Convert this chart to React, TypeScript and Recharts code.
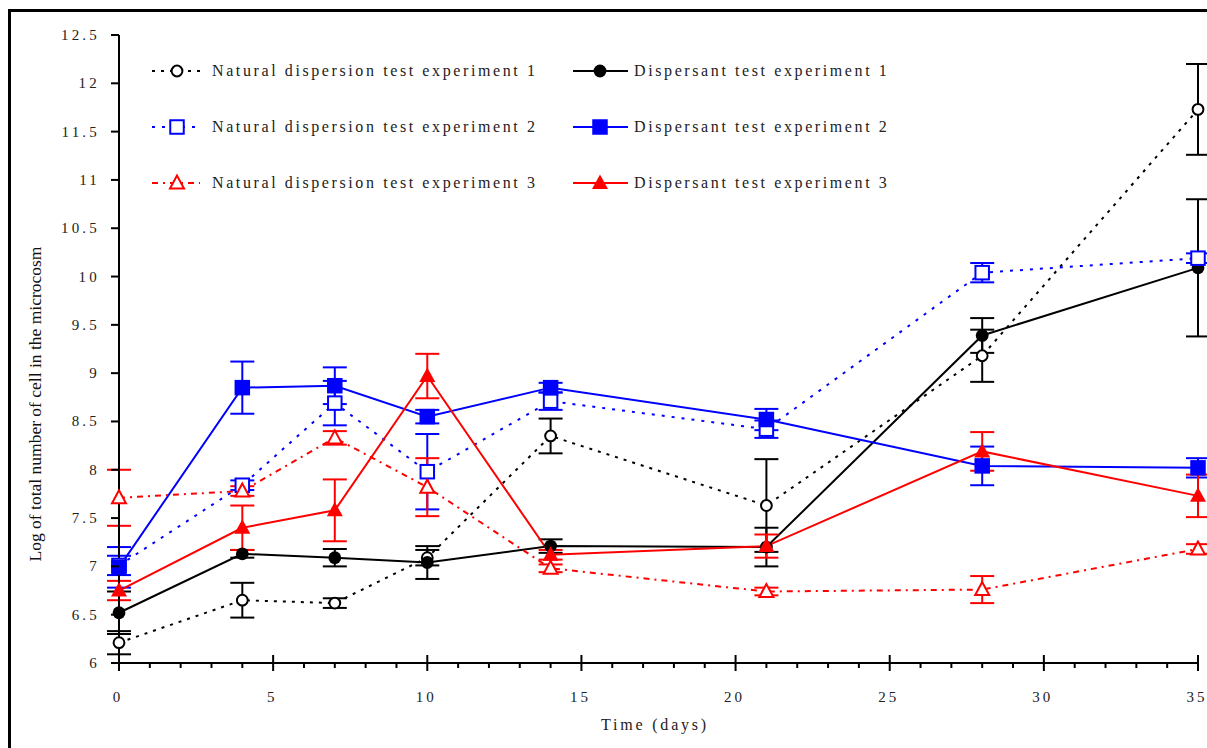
import { LineChart, Line, XAxis, YAxis, ErrorBar, Legend } from 'recharts';

// sampling days
const days = [0, 4, 7, 10, 14, 21, 28, 35];

// log of total number of cells, with +/- error
const natural1 = [6.21, 6.65, 6.62, 7.09, 8.35, 7.63, 9.18, 11.73];
const natural1Err = [0.12, 0.18, 0.05, 0.08, 0.18, 0.48, 0.27, 0.47];
const dispersant1 = [6.52, 7.13, 7.09, 7.04, 7.21, 7.2, 9.39, 10.09];
const dispersant1Err = [0.22, 0.04, 0.09, 0.17, 0.07, 0.2, 0.18, 0.71];
const natural2 = [7.01, 7.84, 8.69, 7.98, 8.71, 8.42, 10.04, 10.19];
const natural2Err = [0.1, 0.05, 0.23, 0.39, 0.09, 0.09, 0.1, 0.05];
const dispersant2 = [6.99, 8.85, 8.87, 8.55, 8.85, 8.52, 8.04, 8.02];
const dispersant2Err = [0.21, 0.27, 0.19, 0.07, 0.05, 0.11, 0.2, 0.1];
const natural3 = [7.71, 7.78, 8.33, 7.82, 6.98, 6.74, 6.76, 7.18];
const natural3Err = [0.29, 0.05, 0.07, 0.3, 0.04, 0.04, 0.14, 0.05];
const dispersant3 = [6.75, 7.4, 7.58, 8.97, 7.12, 7.21, 8.19, 7.73];
const dispersant3Err = [0.1, 0.23, 0.32, 0.23, 0.05, 0.12, 0.2, 0.22];

const xTicks = [0, 1, 2, 3, 4, 5, 6, 7, 8, 9, 10, 11, 12, 13, 14, 15, 16, 17, 18, 19, 20, 21, 22, 23, 24, 25, 26, 27, 28, 29, 30, 31, 32, 33, 34, 35];
const xMajorTicks = [0, 5, 10, 15, 20, 25, 30, 35];
const yTicks = [6, 6.5, 7, 7.5, 8, 8.5, 9, 9.5, 10, 10.5, 11, 11.5, 12, 12.5];

const xTitle = 'Time (days)';
const yTitle = 'Log of total number of cell in the microcosm';

type MarkerKind = 'circle' | 'square' | 'triangle';

interface SeriesDef {
  key: string;
  name: string;
  color: string;
  dash?: string;
  marker: MarkerKind;
  filled: boolean;
  column: number;
  row: number;
}

const series: SeriesDef[] = [
  { key: 'nat1', name: 'Natural dispersion test experiment 1', color: '#000000', dash: '3 6', marker: 'circle', filled: false, column: 0, row: 0 },
  { key: 'disp1', name: 'Dispersant test experiment 1', color: '#000000', marker: 'circle', filled: true, column: 1, row: 0 },
  { key: 'nat2', name: 'Natural dispersion test experiment 2', color: '#0000ff', dash: '3 7', marker: 'square', filled: false, column: 0, row: 1 },
  { key: 'disp2', name: 'Dispersant test experiment 2', color: '#0000ff', marker: 'square', filled: true, column: 1, row: 1 },
  { key: 'nat3', name: 'Natural dispersion test experiment 3', color: '#ff0000', dash: '6 5 2 5', marker: 'triangle', filled: false, column: 0, row: 2 },
  { key: 'disp3', name: 'Dispersant test experiment 3', color: '#ff0000', marker: 'triangle', filled: true, column: 1, row: 2 },
];

const data = days.map((day, i) => ({
  day,
  nat1: natural1[i], nat1Err: natural1Err[i],
  disp1: dispersant1[i], disp1Err: dispersant1Err[i],
  nat2: natural2[i], nat2Err: natural2Err[i],
  disp2: dispersant2[i], disp2Err: dispersant2Err[i],
  nat3: natural3[i], nat3Err: natural3Err[i],
  disp3: dispersant3[i], disp3Err: dispersant3Err[i],
}));

const serif = '"Liberation Serif", "Times New Roman", serif';

const renderMarker = (s: SeriesDef, cx: number, cy: number, key?: string | number) => {
  const fill = s.filled ? s.color : '#ffffff';
  if (s.marker === 'circle') {
    return s.filled
      ? <circle key={key} cx={cx} cy={cy} r={6.4} fill={fill} />
      : <circle key={key} cx={cx} cy={cy} r={5.4} fill={fill} stroke={s.color} strokeWidth={2} />;
  }
  if (s.marker === 'square') {
    const size = s.filled ? 15.5 : 13.5;
    return (
      <rect key={key} x={cx - size / 2} y={cy - size / 2} width={size} height={size} fill={fill}
        stroke={s.filled ? 'none' : s.color} strokeWidth={2} />
    );
  }
  const pts = s.filled
    ? `${cx},${cy - 8.5} ${cx - 8},${cy + 6} ${cx + 8},${cy + 6}`
    : `${cx},${cy - 7.5} ${cx - 7},${cy + 5.5} ${cx + 7},${cy + 5.5}`;
  return <polygon key={key} points={pts} fill={fill} stroke={s.filled ? 'none' : s.color} strokeWidth={2} strokeLinejoin="miter" />;
};

const XTick = (props: any) => {
  const { x, y, payload } = props;
  const major = xMajorTicks.includes(payload.value);
  return (
    <g>
      <line x1={x} x2={x} y1={major ? y - 8 : y} y2={major ? y + 8 : y + 5} stroke="#000" strokeWidth={2} />
      {major && (
        <text x={x} y={y + 34} dx={-1} textAnchor="middle" dominantBaseline="central"
          fontFamily={serif} fontSize={15} letterSpacing={3} fill="#222">
          {payload.value}
        </text>
      )}
    </g>
  );
};

const YTick = (props: any) => {
  const { x, y, payload } = props;
  return (
    <g>
      <line x1={x - 8} x2={x} y1={y} y2={y} stroke="#000" strokeWidth={2} />
      <text x={x - 19} y={y} textAnchor="end" dominantBaseline="central"
        fontFamily={serif} fontSize={15} letterSpacing={3.2} fill="#222">
        {String(payload.value)}
      </text>
    </g>
  );
};

const XTitle = () => (
  <text x={655} y={724} textAnchor="middle" dominantBaseline="central" fontFamily={serif}
    fontSize={16} letterSpacing={2.8} fill="#222">
    {xTitle}
  </text>
);

const YTitle = () => (
  <text x={35} y={404} transform="rotate(-90, 35, 404)" textAnchor="middle" dominantBaseline="central"
    fontFamily={serif} fontSize={17.5} fill="#111">
    {yTitle}
  </text>
);

// legend column geometry: icon left edge, line start/end, marker position, text start
const legendCols = [
  { iconLeft: 148, lineFrom: 4, lineTo: 52, markerX: 29, textLeft: 212 },
  { iconLeft: 569, lineFrom: 4, lineTo: 59, markerX: 31, textLeft: 634 },
];
const legendRows = [71, 127, 183];

const renderLegend = () => (
  <div style={{ position: 'relative', width: 1207, height: 220 }}>
    {series.map((s) => {
      const col = legendCols[s.column];
      const rowY = legendRows[s.row];
      return (
        <div key={s.key}>
          <svg width={64} height={24} style={{ position: 'absolute', left: col.iconLeft, top: rowY - 12 }}>
            <line x1={col.lineFrom} x2={col.lineTo} y1={12} y2={12} stroke={s.color} strokeWidth={2}
              strokeDasharray={s.dash} />
            {renderMarker(s, col.markerX, 12)}
          </svg>
          <span style={{
            position: 'absolute', left: col.textLeft, top: rowY - 10, lineHeight: '20px', whiteSpace: 'nowrap',
            fontFamily: serif, fontSize: 16, letterSpacing: 2.6, color: '#222',
          }}>
            {s.name}
          </span>
        </div>
      );
    })}
  </div>
);

export default function App() {
  return (
    <div style={{ position: 'fixed', left: 0, top: 0, width: 1207, height: 748, overflow: 'hidden', background: '#fff' }}>
      <div style={{ position: 'absolute', left: 8, top: 9, width: 1300, height: 900, borderTop: '3px solid #000', borderLeft: '3px solid #000' }} />
      <LineChart width={1207} height={748} data={data} margin={{ top: 35, right: 9, bottom: 35, left: 39 }}>
        <XAxis dataKey="day" type="number" domain={[0, 35]} ticks={xTicks} interval={0}
          tickSize={0} tickMargin={0} tickLine={false} tick={<XTick />}
          axisLine={{ stroke: '#000', strokeWidth: 2 }} height={50} label={<XTitle />} />
        <YAxis type="number" domain={[6, 12.5]} ticks={yTicks} interval={0} allowDataOverflow
          tickSize={0} tickMargin={0} tickLine={false} tick={<YTick />}
          axisLine={{ stroke: '#000', strokeWidth: 2 }} width={80} label={<YTitle />} />
        <Legend verticalAlign="middle" align="center" layout="horizontal" content={renderLegend}
          wrapperStyle={{ left: 0, top: 0, width: 1207, height: 220 }} />
        {series.map((s) => (
          <Line key={s.key} dataKey={s.key} name={s.name} type="linear" stroke={s.color} strokeWidth={2}
            strokeDasharray={s.dash} isAnimationActive={false} activeDot={false}
            dot={(p: any) => renderMarker(s, p.cx, p.cy, `${s.key}-${p.index}`)}>
            <ErrorBar dataKey={`${s.key}Err`} width={12} strokeWidth={2} stroke={s.color} direction="y"
              isAnimationActive={false} />
          </Line>
        ))}
      </LineChart>
    </div>
  );
}
